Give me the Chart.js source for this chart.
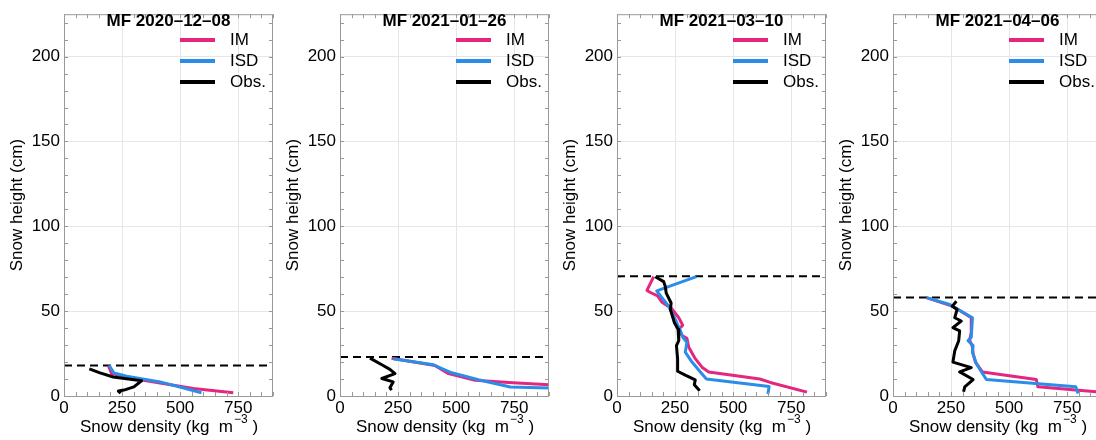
<!DOCTYPE html>
<html>
<head>
<meta charset="utf-8">
<title>Snow density profiles</title>
<script src="https://cdn.jsdelivr.net/npm/chart.js@4"></script>
<style>
  html, body { margin: 0; padding: 0; background: #fff; overflow: hidden; }
  #wrap { position: relative; width: 1096px; height: 440px; overflow: hidden; }
  .panel { position: absolute; top: 0; width: 276px; height: 440px; }
</style>
</head>
<body>
<div id="wrap">
  <div class="panel" style="left:0px"><canvas id="c1"></canvas></div>
  <div class="panel" style="left:276px"><canvas id="c2"></canvas></div>
  <div class="panel" style="left:553px"><canvas id="c3"></canvas></div>
  <div class="panel" style="left:829px"><canvas id="c4"></canvas></div>
</div>
<script>
// Snow density profiles: IM / ISD simulations vs observations

const panelTitles = ['MF 2020–12–08', 'MF 2021–01–26', 'MF 2021–03–10', 'MF 2021–04–06'];
const snowDepth = [18, 23, 70.5, 58];
const seriesLabels = ['IM', 'ISD', 'Obs.'];
const densityTicks = [0, 250, 500, 750];
const heightTicks = [0, 50, 100, 150, 200];

// [density (kg m-3), height (cm)], top of snowpack first
const imDec = [[191, 18], [205, 13.2], [342, 9.3], [557, 4.4], [729, 1.9]];
const isdDec = [[195, 18], [215, 13.6], [270, 11.6], [414, 8.3], [592, 1.9]];
const obsDec = [[109, 16], [155, 13.6], [212, 11.2], [334, 9], [301, 5.4], [258, 3.5], [234, 2.9], [244, 1.6]];

const imJan = [[222, 22.3], [409, 18], [467, 13.2], [582, 9.3], [726, 8], [905, 6.6]];
const isdJan = [[229, 21.9], [402, 18.4], [481, 13.7], [596, 9.6], [733, 5.3], [905, 4.7]];
const obsJan = [[129, 22.3], [180, 18.4], [215, 15.7], [237, 13.2], [180, 10.3], [229, 8.3], [215, 4.9], [222, 3.5]];

const imMar = [[158, 70.3], [129, 62.2], [144, 61], [175, 59], [194, 55.2], [215, 53.3], [230, 52.5], [266, 46.1],
  [283, 41.7], [266, 39.4], [280, 35.7], [301, 34], [309, 28.7], [337, 22], [366, 17], [395, 14.2],
  [615, 10], [660, 8], [818, 2.3]];
const isdMar = [[342, 70.3], [171, 62], [222, 52.9], [251, 45.2], [273, 38.4], [284, 34.5], [301, 31.6],
  [294, 25.8], [323, 20], [359, 14.2], [385, 10], [655, 5.6], [650, 1.2]];
const obsMar = [[165, 70.3], [201, 67.4], [208, 64.5], [212, 60.6], [233, 54.8], [230, 51], [247, 43.2],
  [263, 39.4], [266, 32.6], [256, 29.7], [261, 22], [261, 14.6], [294, 12.3], [337, 9.5], [333, 6.6], [356, 3.1]];

const imApr = [[144, 58], [258, 52.9], [337, 46.1], [337, 37.4], [330, 33], [342, 29], [345, 25], [355, 20],
  [385, 14.2], [617, 9.7], [624, 5.4], [874, 2.5], [900, 1.6]];
const isdApr = [[144, 58], [244, 53.9], [342, 46.1], [337, 34.5], [323, 32.6], [345, 29.7], [342, 25.8],
  [359, 19], [402, 9.7], [787, 5.4], [797, 1.5]];
const obsApr = [[273, 55.8], [255, 52.9], [276, 51], [266, 46.1], [294, 44.2], [258, 40.3], [287, 38.4],
  [283, 32.6], [266, 26.7], [258, 20], [337, 16.7], [287, 14.2], [345, 9.7], [309, 5.4], [304, 2.5]];

const X_MAX = 900, X_MINOR = 50;
const Y_MAX = 225, Y_MINOR = 10;

const COLORS = {
  im: '#e5267f',
  isd: '#2a8de8',
  obs: '#000000',
  frame: '#999999',
  grid: '#e6e6e6',
  text: '#000000',
};
const FONT = '"Liberation Sans", Arial, Helvetica, sans-serif';
Chart.defaults.font.family = FONT;

const panels = [
  { im: imDec, isd: isdDec, obs: obsDec },
  { im: imJan, isd: isdJan, obs: obsJan },
  { im: imMar, isd: isdMar, obs: obsMar },
  { im: imApr, isd: isdApr, obs: obsApr },
];

const toPoints = arr => arr.map(p => ({ x: p[0], y: p[1] }));

// box, inward ticks, title, legend and x title with superscript
const framePlugin = {
  id: 'frame',
  afterDraw(chart, args, opts) {
    const { ctx, chartArea: a, scales: { x, y } } = chart;
    ctx.save();
    ctx.strokeStyle = COLORS.frame;
    ctx.lineWidth = 1;
    ctx.strokeRect(a.left + 0.5, a.top + 0.5, a.right - a.left - 1, a.bottom - a.top);
    ctx.beginPath();
    x.ticks.forEach(t => {
      const px = Math.round(x.getPixelForValue(t.value)) + 0.5;
      ctx.moveTo(px, a.bottom); ctx.lineTo(px, a.bottom - 4);
      ctx.moveTo(px, a.top); ctx.lineTo(px, a.top + 4);
    });
    y.ticks.forEach(t => {
      const py = Math.round(y.getPixelForValue(t.value)) + 0.5;
      ctx.moveTo(a.left, py); ctx.lineTo(a.left + 4, py);
      ctx.moveTo(a.right, py); ctx.lineTo(a.right - 4, py);
    });
    ctx.stroke();

    const cx = (a.left + a.right) / 2;
    ctx.fillStyle = COLORS.text;
    ctx.textBaseline = 'middle';
    ctx.textAlign = 'center';
    ctx.font = 'bold 17px ' + FONT;
    ctx.fillText(opts.title, cx, 21);

    // legend
    ctx.font = '17px ' + FONT;
    ctx.textAlign = 'left';
    chart.data.datasets.slice(0, 3).forEach((ds, i) => {
      const ly = 40 + i * 21;
      ctx.strokeStyle = ds.borderColor;
      ctx.lineWidth = 4;
      ctx.beginPath();
      ctx.moveTo(a.left + 116, ly);
      ctx.lineTo(a.left + 151, ly);
      ctx.stroke();
      ctx.fillText(ds.label, a.left + 166, ly);
    });

    // x axis title
    const main = 'Snow density (kg  m', sup = '−3', tail = ' )';
    ctx.font = '17px ' + FONT;
    const w1 = ctx.measureText(main).width, w3 = ctx.measureText(tail).width;
    ctx.font = '12px ' + FONT;
    const w2 = ctx.measureText(sup).width;
    let tx = cx - (w1 + w2 + w3) / 2;
    const ty = 427;
    ctx.font = '17px ' + FONT;
    ctx.fillText(main, tx, ty);
    tx += w1;
    ctx.font = '12px ' + FONT;
    ctx.fillText(sup, tx + 1, ty - 7);
    tx += w2 + 1;
    ctx.font = '17px ' + FONT;
    ctx.fillText(tail, tx, ty);
    ctx.restore();
  }
};

function buildPanel(canvasId, idx) {
  const p = panels[idx];
  const depth = snowDepth[idx];
  return new Chart(document.getElementById(canvasId), {
    type: 'scatter',
    data: {
      datasets: [
        { label: seriesLabels[0], data: toPoints(p.im), borderColor: COLORS.im, order: 2 },
        { label: seriesLabels[1], data: toPoints(p.isd), borderColor: COLORS.isd, order: 1 },
        { label: seriesLabels[2], data: toPoints(p.obs), borderColor: COLORS.obs, order: 0 },
        {
          label: 'depth',
          data: [{ x: 0, y: depth }, { x: X_MAX, y: depth }],
          borderColor: '#000',
          borderWidth: 2,
          borderDash: [8, 5],
          order: 3
        }
      ].map(ds => Object.assign({
        showLine: true,
        borderWidth: 3,
        pointRadius: 0,
        pointHoverRadius: 0,
        tension: 0,
        borderJoinStyle: 'round',
        borderCapStyle: 'butt',
        backgroundColor: 'transparent'
      }, ds))
    },
    options: {
      responsive: true,
      maintainAspectRatio: false,
      animation: false,
      events: [],
      layout: { padding: { top: 8, right: 3, left: 0, bottom: 0 } },
      plugins: {
        legend: { display: false },
        tooltip: { enabled: false },
        frame: { title: panelTitles[idx] }
      },
      scales: {
        x: {
          type: 'linear',
          min: 0,
          max: X_MAX,
          afterBuildTicks: scale => {
            const t = [];
            for (let v = 0; v <= X_MAX; v += X_MINOR) t.push({ value: v });
            scale.ticks = t;
          },
          afterFit: scale => { scale.height = 44; },
          grid: {
            drawTicks: false,
            color: c => (c.tick && densityTicks.includes(c.tick.value)) ? COLORS.grid : 'rgba(0,0,0,0)'
          },
          border: { display: false },
          ticks: {
            autoSkip: false,
            maxRotation: 0,
            padding: 2,
            color: COLORS.text,
            font: { size: 17 },
            callback: v => densityTicks.includes(v) ? String(v) : ''
          }
        },
        y: {
          type: 'linear',
          min: 0,
          max: Y_MAX,
          afterBuildTicks: scale => {
            const t = [];
            for (let v = 0; v <= Y_MAX; v += Y_MINOR) t.push({ value: v });
            scale.ticks = t;
          },
          afterFit: scale => { scale.width = 64; },
          grid: {
            drawTicks: false,
            color: c => (c.tick && heightTicks.includes(c.tick.value)) ? COLORS.grid : 'rgba(0,0,0,0)'
          },
          border: { display: false },
          title: {
            display: true,
            text: 'Snow height (cm)',
            color: COLORS.text,
            font: { size: 17 },
            padding: { top: 7, bottom: 0 }
          },
          ticks: {
            autoSkip: false,
            padding: 4,
            color: COLORS.text,
            font: { size: 17 },
            callback: v => heightTicks.includes(v) ? String(v) : ''
          }
        }
      }
    },
    plugins: [framePlugin]
  });
}

buildPanel('c1', 0);
buildPanel('c2', 1);
buildPanel('c3', 2);
buildPanel('c4', 3);
</script>
</body>
</html>
